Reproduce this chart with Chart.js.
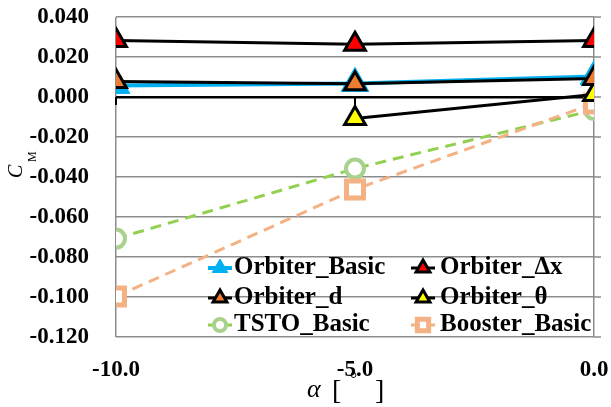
<!DOCTYPE html>
<html>
<head>
<meta charset="utf-8">
<script src="https://cdn.jsdelivr.net/npm/chart.js"></script>
<style>
  html, body { margin: 0; padding: 0; background: #fff; }
  #wrap { width: 611px; height: 407px; }
</style>
</head>
<body>
<div id="wrap"><canvas id="grafico" width="611" height="407"></canvas></div>
<script>
/* ============================
      DADOS
============================ */
const alpha = [-10, -5, 0];
const xTicks = [-10, -5, 0];
const yTicks = [0.04, 0.02, 0, -0.02, -0.04, -0.06, -0.08, -0.1, -0.12];

const orbiterBasic = [0.0058, 0.0068, 0.0103];
const orbiterDx = [0.0282, 0.0264, 0.0283];
const orbiterD = [0.0078, 0.0066, 0.0093];
const orbiterTheta = [null, -0.0107, 0.0013];
const tstoBasic = [-0.0708, -0.0358, -0.0065];
const boosterBasic = [-0.0998, -0.0462, -0.0032];

const nomes = ["Orbiter_Basic", "Orbiter_\u0394x", "Orbiter_d", "Orbiter_\u03b8", "TSTO_Basic", "Booster_Basic"];

function pontos(valores) {
    return alpha.map((a, i) => ({ x: a, y: valores[i] })).filter(p => p.y !== null);
}

const serif = "\"Liberation Serif\", \"DejaVu Serif\", serif";

/* ============================
      LEGENDA + TÍTULOS
============================ */
const extras = {
    id: "extras",
    beforeDatasetsDraw(chart) {
        const ctx = chart.ctx;
        const x = chart.scales.x, y = chart.scales.y;
        const y0 = y.getPixelForValue(0);
        ctx.save();
        // marcas do eixo x abaixo do zero
        ctx.strokeStyle = "#000";
        ctx.lineWidth = 2;
        [-10, -5].forEach(v => {
            const px = x.getPixelForValue(v);
            ctx.beginPath();
            ctx.moveTo(px, y0);
            ctx.lineTo(px, y0 + 8);
            ctx.stroke();
        });
        // grades passam um pouco da borda direita
        ctx.strokeStyle = "#8c8c8c";
        ctx.lineWidth = 1.5;
        yTicks.forEach(v => {
            const py = y.getPixelForValue(v);
            ctx.beginPath();
            ctx.moveTo(chart.chartArea.right, py);
            ctx.lineTo(chart.chartArea.right + 7, py);
            ctx.stroke();
        });
        ctx.restore();
    },
    afterDraw(chart) {
        const ctx = chart.ctx;
        ctx.save();

        // legenda em 2 colunas
        const colMarca = [220, 423];
        const colTexto = [234, 440];
        const linhas = [268, 298, 325];
        chart.data.datasets.forEach((ds, i) => {
            const c = i % 2, r = Math.floor(i / 2);
            const mx = colMarca[c], my = linhas[r];
            ctx.save();
            ctx.strokeStyle = ds.borderColor;
            ctx.lineWidth = ds.borderWidth;
            ctx.setLineDash(ds.borderDash || []);
            ctx.beginPath();
            ctx.moveTo(mx - 12, my);
            ctx.lineTo(mx + 12, my);
            ctx.stroke();
            ctx.setLineDash([]);
            ctx.fillStyle = ds.pointBackgroundColor;
            ctx.strokeStyle = ds.pointBorderColor;
            ctx.lineWidth = ds.pointBorderWidth;
            Chart.helpers.drawPoint(ctx, {
                pointStyle: ds.pointStyle,
                radius: ds.legendRadius,
                rotation: 0,
                borderWidth: ds.pointBorderWidth
            }, mx, my);
            ctx.restore();
            ctx.fillStyle = "#000";
            ctx.font = "bold 25px " + serif;
            ctx.textBaseline = "middle";
            ctx.textAlign = "left";
            ctx.fillText(ds.label, colTexto[c], my);
        });

        // título do eixo Y: C_M
        ctx.save();
        ctx.translate(22, 178);
        ctx.rotate(-Math.PI / 2);
        ctx.fillStyle = "#000";
        ctx.textBaseline = "alphabetic";
        ctx.textAlign = "left";
        ctx.font = "italic 20px " + serif;
        ctx.fillText("C", 0, 0);
        ctx.font = "12px " + serif;
        ctx.fillText("M", 16, 14);
        ctx.restore();

        // título do eixo X: α [°]
        ctx.fillStyle = "#000";
        ctx.textBaseline = "alphabetic";
        ctx.textAlign = "left";
        ctx.font = "italic 26px " + serif;
        ctx.fillText("\u03b1", 307, 397);
        ctx.font = "28px " + serif;
        ctx.fillText("[", 332, 399);
        ctx.fillText("]", 375, 399);
        ctx.font = "18px " + serif;
        ctx.fillText("\u00b0", 350, 385);

        ctx.restore();
    }
};

/* ============================
      GRÁFICO
============================ */
function desenhar() {
new Chart(document.getElementById("grafico"), {
    type: "line",
    data: {
        datasets: [
            {
                label: nomes[0], data: pontos(orbiterBasic), order: 5,
                borderColor: "#00b0f0", borderWidth: 4,
                pointStyle: "triangle", pointRadius: 16, legendRadius: 9,
                pointBackgroundColor: "#00b0f0", pointBorderColor: "#00b0f0", pointBorderWidth: 1
            },
            {
                label: nomes[1], data: pontos(orbiterDx), order: 1,
                borderColor: "#000", borderWidth: 3,
                pointStyle: "triangle", pointRadius: 12, legendRadius: 8,
                pointBackgroundColor: "#ff0000", pointBorderColor: "#000", pointBorderWidth: 3
            },
            {
                label: nomes[2], data: pontos(orbiterD), order: 2,
                borderColor: "#000", borderWidth: 3,
                pointStyle: "triangle", pointRadius: 12, legendRadius: 8,
                pointBackgroundColor: "#ed7d31", pointBorderColor: "#000", pointBorderWidth: 3
            },
            {
                label: nomes[3], data: pontos(orbiterTheta), order: 3,
                borderColor: "#000", borderWidth: 3,
                pointStyle: "triangle", pointRadius: 12, legendRadius: 8,
                pointBackgroundColor: "#ffff00", pointBorderColor: "#000", pointBorderWidth: 3
            },
            {
                label: nomes[4], data: pontos(tstoBasic), order: 7,
                borderColor: "#92d050", borderWidth: 3, borderDash: [11, 7],
                pointStyle: "circle", pointRadius: 9, legendRadius: 6,
                pointBackgroundColor: "#ffffff", pointBorderColor: "#a9d18e", pointBorderWidth: 4
            },
            {
                label: nomes[5], data: pontos(boosterBasic), order: 6,
                borderColor: "#f4b183", borderWidth: 3, borderDash: [11, 7],
                pointStyle: "rect", pointRadius: 12, legendRadius: 8,
                pointBackgroundColor: "#ffffff", pointBorderColor: "#f4b183", pointBorderWidth: 5
            }
        ]
    },
    options: {
        responsive: false,
        animation: false,
        devicePixelRatio: 1,
        layout: { padding: { top: 17, right: 15, left: 0, bottom: 0 } },
        plugins: { legend: { display: false }, tooltip: { enabled: false } },
        elements: { line: { tension: 0 } },
        scales: {
            x: {
                type: "linear",
                min: -10, max: 0,
                afterFit: s => { s.height = 70; s.paddingLeft = 0; s.paddingRight = 0; },
                afterBuildTicks: s => { s.ticks = xTicks.map(v => ({ value: v })); },
                border: { display: false },
                grid: {
                    drawTicks: false,
                    color: c => (c.tick && c.tick.value === -5) ? "rgba(0,0,0,0)" : "#8c8c8c",
                    lineWidth: 1.5
                },
                ticks: {
                    padding: 19,
                    maxRotation: 0,
                    color: "#000",
                    font: { family: serif, size: 23, weight: "bold" },
                    callback: v => v.toFixed(1)
                }
            },
            y: {
                min: -0.12, max: 0.04,
                afterFit: s => { s.width = 116; s.paddingTop = 0; s.paddingBottom = 0; },
                afterBuildTicks: s => { s.ticks = yTicks.map(v => ({ value: v })); },
                border: { display: false },
                grid: {
                    drawTicks: false,
                    color: c => (c.tick && Math.abs(c.tick.value) < 1e-9) ? "#000" : "#8c8c8c",
                    lineWidth: c => (c.tick && Math.abs(c.tick.value) < 1e-9) ? 2.5 : 1.5
                },
                ticks: {
                    padding: 27,
                    color: "#000",
                    font: { family: serif, size: 23, weight: "bold" },
                    callback: v => v.toFixed(3)
                }
            }
        }
    },
    plugins: [extras]
});
}

const fontes = ["bold 23px \"Liberation Serif\"", "italic 20px \"Liberation Serif\"", "20px \"Liberation Serif\""];
if (document.fonts && document.fonts.load) {
    Promise.all(fontes.map(f => document.fonts.load(f))).then(desenhar, desenhar);
} else {
    desenhar();
}
</script>
</body>
</html>
